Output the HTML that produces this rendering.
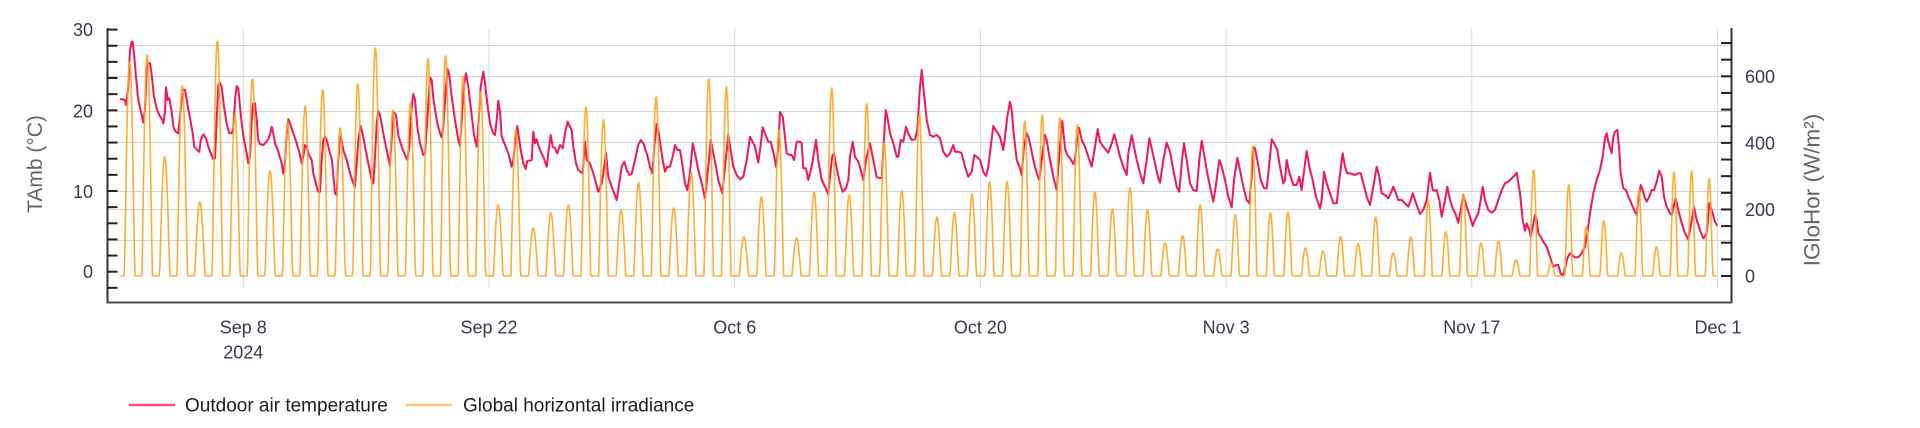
<!DOCTYPE html>
<html>
<head>
<meta charset="utf-8">
<style>
  html,body{margin:0;padding:0;background:#ffffff;}
  svg{display:block;}
  text{font-family:"Liberation Sans", Arial, sans-serif;}
</style>
</head>
<body>
<svg id="s" width="1920" height="428" viewBox="0 0 1920 428" xmlns="http://www.w3.org/2000/svg">
  <rect x="0" y="0" width="1920" height="428" fill="#ffffff"/>
  <g id="grid" stroke="#d4d4d4" stroke-width="1" fill="none">
    <line x1="108" y1="45.5" x2="1731" y2="45.5"/>
    <line x1="108" y1="76.5" x2="1731" y2="76.5"/>
    <line x1="108" y1="111.5" x2="1731" y2="111.5"/>
    <line x1="108" y1="142.5" x2="1731" y2="142.5"/>
    <line x1="108" y1="191.5" x2="1731" y2="191.5"/>
    <line x1="108" y1="209.5" x2="1731" y2="209.5"/>
    <line x1="108" y1="240.5" x2="1731" y2="240.5"/>
  </g>
  <g stroke="#dadada" stroke-width="1" fill="none">
    <line x1="243.3" y1="29" x2="243.3" y2="288"/>
    <line x1="489" y1="29" x2="489" y2="288"/>
    <line x1="734.7" y1="29" x2="734.7" y2="288"/>
    <line x1="980.4" y1="29" x2="980.4" y2="288"/>
    <line x1="1226.1" y1="29" x2="1226.1" y2="288"/>
    <line x1="1471.8" y1="29" x2="1471.8" y2="288"/>
    <line x1="1717.5" y1="29" x2="1717.5" y2="288"/>
  </g>

  <polyline id="temp" fill="none" stroke="#f2175a" stroke-width="2" stroke-linejoin="round" stroke-linecap="round" points=""/>
  <path id="irr" fill="none" stroke="#ffa41f" stroke-opacity="0.9" stroke-width="1.6" stroke-linejoin="round" d=""/>

  <g id="axes" stroke="#333" stroke-width="2" fill="none">
    <line x1="107.5" y1="28" x2="107.5" y2="303"/>
    <line x1="1731.5" y1="28" x2="1731.5" y2="303"/>
    <line x1="106.5" y1="302.5" x2="1732.5" y2="302.5" stroke="#4a4a4a"/>
  </g>
  <g id="ticks" stroke="#222" stroke-width="2"></g>

  <g fill="#363a4e" font-size="18">
    <text x="93" y="36" text-anchor="end">30</text>
    <text x="93" y="117.5" text-anchor="end">20</text>
    <text x="93" y="197.8" text-anchor="end">10</text>
    <text x="93" y="278" text-anchor="end">0</text>

    <text x="1745" y="83" text-anchor="start">600</text>
    <text x="1745" y="149.6" text-anchor="start">400</text>
    <text x="1745" y="216" text-anchor="start">200</text>
    <text x="1745" y="282.4" text-anchor="start">0</text>

    <text x="243.3" y="333.5" text-anchor="middle">Sep 8</text>
    <text x="243.3" y="358.5" text-anchor="middle">2024</text>
    <text x="489" y="333.5" text-anchor="middle">Sep 22</text>
    <text x="734.7" y="333.5" text-anchor="middle">Oct 6</text>
    <text x="980.4" y="333.5" text-anchor="middle">Oct 20</text>
    <text x="1226.1" y="333.5" text-anchor="middle">Nov 3</text>
    <text x="1471.8" y="333.5" text-anchor="middle">Nov 17</text>
    <text x="1718" y="333.5" text-anchor="middle">Dec 1</text>
  </g>

  <text x="0" y="0" font-size="21" fill="#666" text-anchor="middle" transform="translate(42,164) rotate(-90)">TAmb (°C)</text>
  <text x="0" y="0" font-size="22.5" fill="#666" text-anchor="middle" transform="translate(1819.5,190) rotate(-90)">IGloHor (W/m²)</text>

  <line x1="129" y1="405" x2="175" y2="405" stroke="#ff4d7a" stroke-width="2.5"/>
  <text x="185" y="411.5" font-size="19" fill="#1e1e1e">Outdoor air temperature</text>
  <line x1="406" y1="405" x2="452" y2="405" stroke="#ffc866" stroke-width="2.5"/>
  <text x="463" y="411.5" font-size="19" fill="#1e1e1e">Global horizontal irradiance</text>
</svg>

<script>
(function(){
  var NS = "http://www.w3.org/2000/svg";
  var tg = document.getElementById("ticks");
  function ln(x1,y1,x2,y2){
    var l = document.createElementNS(NS,"line");
    l.setAttribute("x1",x1);l.setAttribute("y1",y1);
    l.setAttribute("x2",x2);l.setAttribute("y2",y2);
    tg.appendChild(l);
  }
  for (var T=-2; T<=30; T+=2){
    var y = 271.7 - 8.07*T;
    ln(107,y,117.5,y);
  }
  for (var v=0; v<=700; v+=50){
    var y2 = 276 - 0.3328*v;
    ln(1721,y2,1732,y2);
  }

  var T = [
  [120.7,99],[125,100],[126,105],[128.3,86.7],[130,50],[131.7,41.7],[132.7,41.7],[134,53.3],[136,76.7],[138.3,100],[141.7,115],[143.3,122.7],[145,110],[146.7,66.7],[148.3,62.7],[150,63.3],[151.7,75],[154,96.7],[156.7,108.3],[159.3,115],[162.3,120],[163.3,123.3],[165,111.7],[166,87.3],[167.7,100],[169.3,98.3],[171.7,111.7],[173.3,126.7],[175.7,131.7],[178.3,133.3],[180,116.7],[182.7,89.3],[185,90],[187.3,103.3],[190,118.3],[192.7,133.3],[194.3,146.7],[197.3,150],[199.3,151.7],[200.7,140],[203.3,134.3],[206,138.3],[208.3,146.7],[210.7,153.3],[213.3,159],[215,158.3],[216.7,120],[218.3,85],[220,82.7],[221.7,87.3],[224,106.7],[226.7,124],[229.3,133.3],[231.7,133.3],[233.3,128.3],[235.3,96.7],[236.7,86],[238.3,88.3],[240,106.7],[241.7,123.3],[244,140],[246.7,153.3],[248.3,163.3],[250,156.7],[251.7,120],[253.3,103.3],[255,103.3],[256.7,120],[258.3,140],[260,144],[263.3,145],[265,143.3],[268.3,139.3],[270,134.3],[271.7,126.7],[273.3,133.3],[275,143.3],[278.3,151.7],[281.7,163.3],[283.3,173.3],[285,163.3],[286.7,133.3],[288.3,119.3],[290,123.3],[293.3,133.3],[296.7,143.3],[300,155],[301.7,163.3],[303.3,156.7],[305,145],[306.7,146.7],[308.3,153.3],[311.7,160],[313.3,173.3],[316.7,186.7],[318.3,191.7],[320,191.7],[321.7,160],[323.3,140],[325,136.7],[326.7,140],[330,153.3],[331.7,158.3],[335,193.3],[336.7,195],[338.3,160],[340,136.7],[341.7,140],[343.3,150],[346.7,160],[350,173.3],[353.3,183.3],[355,186.7],[356.7,163.3],[358.3,140],[360.7,126],[363.3,136.7],[365,146.7],[368.3,163.3],[371.7,180],[373.3,183.3],[375,156.7],[376.7,123.3],[378.3,111],[380,115],[383.3,133.3],[386.7,150],
  [390,166],[393.3,111.7],[396,115],[398.3,135],[401.7,146.7],[405,155],[407.3,160],[409.3,146.7],[411.7,106.7],[413.3,94],[415,100],[417.3,126.7],[420,143.3],[423.3,155],[425,153.3],[427.3,120],[430,77.3],[431.7,80],[433.3,98.3],[436.7,120],[440,133.3],[441.7,137.3],[443.3,126.7],[446,86.7],[447.7,69.3],[449.3,75],[451.7,96.7],[455,120],[458.3,140],[460,146],[461.7,120],[464,85],[466,73.3],[468.3,86.7],[470.7,106.7],[474,135],[476.7,146.7],[478.3,126.7],[480.7,86.7],[483.3,71.7],[485,83.3],[487.3,103.3],[490,123.3],[493.3,133.3],[495,135],[496.7,120],[498.3,100.7],[500,111.7],[501.7,136.7],[505,145],[508.3,153.3],[511.7,166.7],[513.3,160],[515,143.3],[517.3,126],[518.3,133.3],[520.7,150],[523.3,163.3],[525.7,169],[527.3,160.7],[530,160.7],[531.7,160],[533.3,131.7],[535,143.3],[536.7,139.3],[538.3,145],[540,150],[543.3,156.7],[546.7,166.7],[548.3,153.3],[550.7,135],[552.7,146.7],[555,148.3],[557.3,153.3],[560,145],[562.7,148.3],[565,133.3],[567.7,121.7],[570,126.7],[571.7,130],[573.3,146.7],[576,163.3],[578.3,170],[582.7,173.3],[585,141.7],[586.7,160],[590,163.3],[593.3,173.3],[598.3,191.7],[601.7,183.3],[603.3,173.3],[606,153.3],[608.3,176.7],[611.7,186.7],[616.7,200],[619.3,183.3],[621.7,166.7],[624.3,161.7],[626.7,170],[629.3,175],[631.7,174],[635,160],[638.3,145],[640.7,140],[643.3,143.3],[646.7,153.3],[650,166.7],[652.3,173.3],[654.3,146.7],[656.7,124],[658.3,130],[660.7,146.7],[662.7,160],[665,171.7],[667.3,166.7],[670,166.7],[672.7,156.7],[675,145],[677.3,150],[680,150],[682.7,166.7],[685,183.3],[687.3,190],[690,173.3],[692.7,143.3],[695,153.3],[698.3,170],[701.7,183.3],[705,198.3],[708.3,166.7],[710.7,140],[713.3,153.3],[716,166.7],[718.3,180],[722.3,193.3],[725,166.7],[728.3,135],[730.7,150],[733.3,166.7],[736.7,175],[740,179.3],[743.3,176.7],[746.7,160],[750,136.7],[753.3,143.3],[755,146.7],[758.3,162.7],[760,150],[762.7,127.3],[765,133.3],[768.3,141.7],[770.7,141.7],[773.3,151.7],[776,166.7],[778.3,146.7],
  [780,112],[782.7,116.7],[785,136.7],[786.7,153.3],[790,155],[791.7,155],[794,160],[796.7,141.7],[800,141.7],[801.7,143.3],[803.3,168.3],[806,168.3],[808.3,180],[811.7,166.7],[816,140],[818.3,160],[821.7,180],[825,186.7],[828.3,194.3],[830,176.7],[832.3,156],[834,153.3],[836.7,168.3],[840,183.3],[842.7,191.7],[846,188.3],[848.3,180],[850,156.7],[852.7,141.7],[855,156.7],[858.3,161.7],[861.7,173.3],[863.3,180],[866,160],[870,143.3],[873.3,160],[876.7,177.3],[881.7,178.3],[883.3,150],[885.7,110],[887.3,116.7],[890,133.3],[893.3,143.3],[896.7,156.7],[898.3,156.7],[900.7,140],[903.3,141.7],[906,126.7],[908.3,133.3],[911.7,140],[915,139.3],[917.3,130],[920,86.7],[921.7,70],[923.3,86.7],[926.7,120],[930,135],[933.3,136.7],[936.7,135],[940,138.3],[943.3,151.7],[946.7,156.7],[950,153.3],[953.3,145],[955,151.7],[958.3,151.7],[961.7,153.3],[965,166.7],[968.3,176.7],[971.7,171.7],[974.3,155],[976.7,156.7],[980,160],[983.3,171.7],[986,176],[988.3,166.7],[990.7,146.7],[993.3,126],[996.7,131.7],[1000,136.7],[1003.3,150],[1005,136.7],[1007.3,116.7],[1010,101.7],[1011.7,110],[1013.3,130],[1016.7,160],[1020,168.3],[1021.7,175],[1024,146.7],[1026.7,133.3],[1028.3,136.7],[1030.7,146.7],[1033.3,160],[1036.7,173.3],[1039.3,180],[1041.7,160],[1045,135],[1046.7,140],[1050,160],[1053.3,176.7],[1056.7,190],[1060,146.7],[1062.3,121],[1065,148.3],[1067.3,155],[1070,158.3],[1073.3,164],[1075,158.3],[1076.7,143.3],[1079,127.7],[1081.7,140],[1085,146.7],[1088.3,156.7],[1091.7,166.7],[1095,146.7],[1097.7,129],[1100,141.7],[1103.3,146.7],[1108.3,152.7],[1111.7,143.3],[1114.3,134.3],[1116.7,143.3],[1120,156.7],[1123.3,166.7],[1126.7,175],[1128.3,153.3],[1131.7,135],[1134,146.7],[1136.7,160],[1140,173.3],[1143.3,183.3],[1146.7,160],[1149.3,138.3],[1151.7,148.3],[1155,163.3],[1158.3,178.3],[1160,182.7],[1163.3,160],[1166.7,142.7],
  [1170,151.7],[1173.3,170],[1176.7,186.7],[1179.3,191.7],[1181.7,163.3],[1184,143.3],[1186.7,160],[1190,183.3],[1193.3,190],[1196.7,191],[1199.3,160],[1201.7,140.7],[1204,153.3],[1206.7,170],[1210,186.7],[1213.3,201.7],[1215.7,186.7],[1219.3,160],[1221.7,166.7],[1225,180],[1228.3,196.7],[1231.7,207.3],[1234,180],[1237.3,157.7],[1240,170],[1243.3,186.7],[1246.7,200],[1249.3,203.3],[1251.7,176.7],[1253.3,146.7],[1255,148.3],[1257.3,160],[1260.7,180],[1264,188.3],[1266.7,188.3],[1269,166.7],[1271.7,139.3],[1274,143.3],[1277.3,150],[1280,166.7],[1283.3,183.3],[1285,180],[1286.7,160],[1288.3,168.3],[1290.7,176.7],[1293.3,185],[1296.7,185],[1299.3,176.7],[1301.7,190],[1303.3,176.7],[1306.7,151],[1309.3,166.7],[1312.7,180],[1316,196.7],[1320,208.3],[1321.7,200],[1324,171.7],[1326.7,183.3],[1330,193.3],[1333.3,203.3],[1336.7,203.3],[1339.3,180],[1342.7,153.3],[1345,166.7],[1347.3,173.3],[1350,173.3],[1355,175],[1358.3,173.3],[1360.7,173.3],[1363.3,183.3],[1366.7,196.7],[1370,205],[1373.3,186.7],[1376.7,166.7],[1379.3,176.7],[1381.7,193.3],[1385,195],[1388.3,198.3],[1390.7,193.3],[1393.3,186.7],[1396,193.3],[1398.3,200],[1401.7,200],[1405,203.3],[1408.3,206.7],[1410.7,200],[1412.7,193.3],[1415,200],[1417.3,206.7],[1420,214],[1423.3,210],[1426.7,200],[1430,172.7],[1432.7,190],[1435,190.7],[1436.7,190],[1439.3,200],[1441.7,216.7],[1445,200],[1447.3,186.7],[1450,200],[1453.3,210],[1455.3,213.3],[1458.3,222.7],[1460.7,210],[1463.3,195],[1466.7,206.7],[1470,216.7],[1472.7,226],[1475,220],[1478.3,213.3],[1480.7,200],[1482.7,186.7],[1485,200],[1488.3,210],[1491.7,212.7],[1495,210],[1498.3,200],[1501.7,190],[1505,183.3],[1508.3,181.7],[1511.7,178.3],[1515,175],[1516.7,172.7],[1520,193.3],[1522.7,220],[1525,230.7],[1526.7,223.3],[1529.3,230],[1530.7,236.7],[1532.7,226.7],[1535,215],[1536.7,220],[1538.3,233.3],[1540.7,236.7],[1543.3,241.7],[1546.7,246.7],[1550,256.7],[1553.3,266.7],[1556,265],[1558.3,265],[1560.7,274],[1563.3,275],[1565,268.3],[1567.3,258.3],[1570,253.3],
  [1571.7,255],[1575,257.3],[1578.3,257.3],[1581.7,253.3],[1585,246.7],[1587.3,233.3],[1590,213.3],[1593.3,193.3],[1596.7,180],[1600,170],[1602.7,156.7],[1605,138.3],[1606.7,133.3],[1608.3,141.7],[1611.7,153.3],[1613.3,136.7],[1615,131.7],[1617.3,130],[1619.3,150],[1620.7,173.3],[1623.3,188.3],[1626,190],[1628.3,196.7],[1630.7,201.7],[1633.3,208.3],[1636.7,215],[1638.3,200],[1640.7,185],[1642.7,190],[1645,198.3],[1646.7,201.7],[1649.3,196.7],[1651.7,190],[1654,190],[1656.7,181.7],[1659.3,170.7],[1661.7,176.7],[1664,196.7],[1666.7,206.7],[1670,213.3],[1671.7,215],[1673.3,208.3],[1675.7,198.3],[1678.3,210],[1681.7,223.3],[1685,233.3],[1688.3,239.3],[1690.7,226.7],[1694,206.7],[1696.7,220],[1700,230],[1703.3,238.3],[1706.7,233.3],[1709.3,203.3],[1711.7,210],[1715,221.7],[1716.7,225]
  ];
  var pts = [];
  for (var i=0;i<T.length;i++){ pts.push(T[i][0].toFixed(1)+","+T[i][1].toFixed(1)); }
  document.getElementById("temp").setAttribute("points", pts.join(" "));

  var P = [62,55,157,86,202,41,115,79,171,122,106,90,128,84,48,110,103,59,56,77,
           92,205,130,228,213,205,107,120,210,183,97,208,173,79,87,237,197,130,238,192,
           88,195,104,143,191,115,217,213,194,182,182,121,115,118,125,192,209,188,210,243,
           236,205,249,215,147,213,212,248,251,237,244,217,253,237,201,232,194,243,241,260,
           170,263,185,227,221,253,190,247,172,171,179];
  var base = 276;
  var x0 = 120.4, pxPerHour = 17.55/24;
  var d = "";
  var first = true;
  for (var day=0; day<P.length; day++){
    var L = 14.2 - 4.4*day/90;
    var c = 12.6;
    var vals = [], mx = 0;
    for (var h=0; h<24; h++){
      var u = (h - (c - L/2))/L;
      var s = (u>0 && u<1) ? Math.pow(Math.sin(Math.PI*u),1.05) : 0;
      vals.push(s); if (s>mx) mx=s;
    }
    var H = base - P[day];
    for (var h2=0; h2<24; h2++){
      var x = x0 + (day*24+h2)*pxPerHour;
      var y = base - (mx>0 ? H*vals[h2]/mx : 0);
      d += (first ? "M" : "L") + x.toFixed(2) + "," + y.toFixed(2);
      first = false;
    }
  }
  document.getElementById("irr").setAttribute("d", d);
})();
</script>
</body>
</html>
